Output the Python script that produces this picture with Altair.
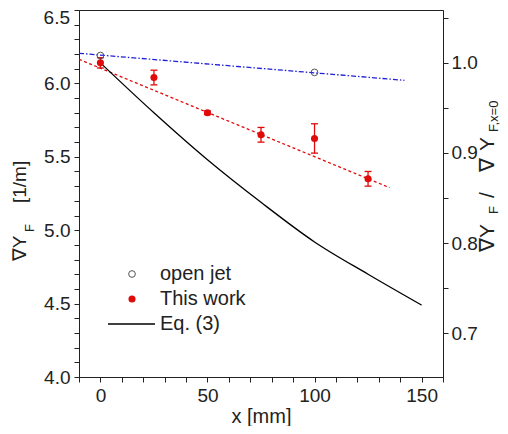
import altair as alt
import pandas as pd

# ---- data ----
oj_x = [0, 100]
oj_y = [6.19, 6.075]
tw_x = [0, 25, 50, 75, 100, 125]
tw_y = [6.14, 6.04, 5.80, 5.65, 5.625, 5.35]
tw_err = [0.035, 0.05, 0.012, 0.05, 0.10, 0.05]
eq_x = [0, 25, 50, 75, 100, 125, 150]
eq_y = [6.14, 5.80, 5.48, 5.19, 4.92, 4.70, 4.49]
ojfit_x = [-10, 142]
ojfit_y = [6.205, 6.021]
twfit_x = [-10, 135]
twfit_y = [6.164, 5.29]
y_ref = 6.14  # normalisation for the right axis

x_dom = [-10, 160]
y_dom = [4.0, 6.5]
r_dom = [y_dom[0] / y_ref, y_dom[1] / y_ref]
x_ticks = list(range(-10, 161, 10))
y_ticks = [round(4.0 + 0.1 * i, 1) for i in range(26)]
r_ticks = [round(0.70 + 0.05 * i, 2) for i in range(8)]

W, H = 364, 367
FONT = "Liberation Sans, Arial, DejaVu Sans"
RED = "#e00a0a"
BLUE = "#2020d8"
INK = "#222222"

df_oj = pd.DataFrame({"x": oj_x, "y": oj_y})
df_tw = pd.DataFrame({"x": tw_x, "y": tw_y, "e": tw_err})
df_tw["lo"] = df_tw["y"] - df_tw["e"]
df_tw["hi"] = df_tw["y"] + df_tw["e"]
df_tw["yn"] = df_tw["y"] / y_ref
df_caps = pd.DataFrame({"x": tw_x + tw_x, "y": list(df_tw["lo"]) + list(df_tw["hi"])})
df_eq = pd.DataFrame({"x": eq_x, "y": eq_y})
df_ojfit = pd.DataFrame({"x": ojfit_x, "y": ojfit_y})
df_twfit = pd.DataFrame({"x": twfit_x, "y": twfit_y})
one = pd.DataFrame({"a": [0]})

x_axis = alt.Axis(values=x_ticks, labelExpr="datum.value % 50 == 0 ? datum.label : ''",
                  title="x [mm]", titleFontSize=20, titleFontWeight="normal", titlePadding=1,
                  labelFontSize=19, tickSize=5, labelPadding=4, grid=False)
# the top label (6.5) is drawn as a separate text so that it is not cut at the page edge
y_axis = alt.Axis(values=y_ticks,
                  labelExpr="(abs(datum.value*2 - round(datum.value*2)) < 0.001 && datum.value < 6.45) ? format(datum.value, '.1f') : ''",
                  title=None, labelFontSize=19, tickSize=5, labelPadding=4, grid=False)
r_axis = alt.Axis(values=r_ticks, orient="right",
                  labelExpr="abs(datum.value*10 - round(datum.value*10)) < 0.001 ? format(datum.value, '.1f') : ''",
                  title=None, labelFontSize=19, tickSize=5, labelPadding=3, grid=False)

xs = alt.Scale(domain=x_dom, nice=False, zero=False)
ys = alt.Scale(domain=y_dom, nice=False, zero=False)
rs = alt.Scale(domain=r_dom, nice=False, zero=False)


def X(f="x"):
    return alt.X(f"{f}:Q", scale=xs, axis=x_axis)


def Y(f="y"):
    return alt.Y(f"{f}:Q", scale=ys, axis=y_axis)


ojfit = alt.Chart(df_ojfit).mark_line(color=BLUE, strokeWidth=1.3, strokeDash=[5, 2, 1.5, 2]).encode(x=X(), y=Y())
twfit = alt.Chart(df_twfit).mark_line(color=RED, strokeWidth=1.3, strokeDash=[3, 2.5]).encode(x=X(), y=Y())
eq = alt.Chart(df_eq).mark_line(color="black", strokeWidth=1.3, interpolate="monotone").encode(x=X(), y=Y())
err = alt.Chart(df_tw).mark_rule(color=RED, strokeWidth=1.3).encode(x=X(), y=Y("lo"), y2="hi:Q")
caps = alt.Chart(df_caps).mark_tick(color=RED, orient="horizontal", size=7, thickness=1.3, opacity=1).encode(x=X(), y=Y())
tw = alt.Chart(df_tw).mark_circle(color=RED, size=50, opacity=1).encode(x=X(), y=Y())
oj = alt.Chart(df_oj).mark_point(shape="circle", filled=False, color="#555555", size=45, strokeWidth=1, opacity=1).encode(x=X(), y=Y())


def txt(s, x, y, size=20, angle=0, align="left", baseline="alphabetic"):
    return alt.Chart(one).mark_text(text=s, font=FONT, fontSize=size, angle=angle, align=align,
                                    baseline=baseline, color=INK).encode(x=alt.value(x), y=alt.value(y))


# legend (inside plot, lower left)
leg = [
    alt.Chart(one).mark_point(shape="circle", filled=False, color="#555555", size=45, strokeWidth=1, opacity=1)
    .encode(x=alt.value(53), y=alt.value(264)),
    txt("open jet", 81, 264, baseline="middle"),
    alt.Chart(one).mark_circle(color=RED, size=50, opacity=1).encode(x=alt.value(53), y=alt.value(289)),
    txt("This work", 81, 289, baseline="middle"),
    alt.Chart(one).mark_rule(color="black", strokeWidth=1.3).encode(x=alt.value(29), x2=alt.value(76), y=alt.value(314)),
    txt("Eq. (3)", 81, 314, baseline="middle"),
]

# axis titles with subscripts (rotated text pieces), and the top tick label
titles = [
    txt("6.5", -9, 8, size=19, align="right", baseline="middle"),
    txt("∇Y", -53, 251, size=19, angle=270),
    txt("F", -45, 222, size=13, angle=270),
    txt("[1/m]", -53, 193, size=19, angle=270),
    txt("∇Y", 415, 242, size=21, angle=270),
    txt("F", 419, 204, size=13, angle=270),
    txt("/", 415, 188, size=21, angle=270),
    txt("∇", 415, 162, size=21, angle=270),
    txt("Y", 415, 141, size=21, angle=270),
    txt("F,x=0", 419, 122, size=13, angle=270),
]

left = alt.layer(ojfit, twfit, eq, err, caps, tw, oj, *leg, *titles)
right = alt.Chart(df_tw).mark_point(opacity=0).encode(x=X(), y=alt.Y("yn:Q", scale=rs, axis=r_axis))

chart = (
    alt.layer(left, right)
    .resolve_scale(y="independent")
    .properties(width=W, height=H,
                autosize=alt.AutoSizeParams(type="none"),
                padding={"left": 71, "top": 2, "right": 57, "bottom": 49})
    .configure_view(stroke=INK, strokeWidth=1)
    .configure_axis(labelFont=FONT, titleFont=FONT, labelColor=INK, titleColor=INK,
                    domainColor=INK, tickColor=INK, domainWidth=1, tickWidth=1)
)

chart.save("out.html", embed_options={"renderer": "svg", "actions": False})
